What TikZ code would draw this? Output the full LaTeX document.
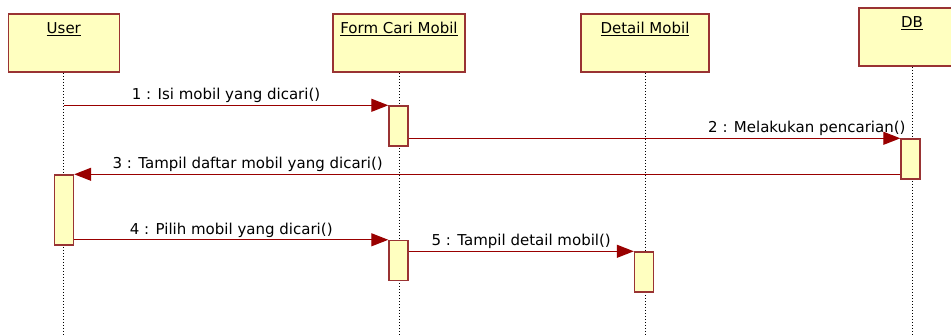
\documentclass[tikz,border=0pt]{standalone}
\usepackage{fontspec}
\setmainfont{DejaVu Sans}
\usetikzlibrary{arrows.meta}
\definecolor{objfill}{HTML}{FFFFC0}
\definecolor{objline}{HTML}{993333}
\definecolor{msgline}{HTML}{990000}
\begin{document}
\begin{tikzpicture}[
        x=1pt, y=-1pt,
        font=\fontsize{15}{18}\selectfont
    ]
    \tikzset{
        objbox/.style = {rectangle, draw=objline, line width=1.6pt, fill=objfill, minimum height=58pt, inner xsep=0pt, inner ysep=7pt, text height=13pt, text depth=31pt},
        actbox/.style = {rectangle, draw=objline, line width=1.4pt, fill=objfill, minimum width=19pt, minimum height=40pt, inner sep=0pt},
        lifeline/.style = {black, line width=0.8pt, dash pattern=on 1pt off 2pt},
        msgedge/.style = {-{Triangle[length=17pt,width=13pt]}, draw=msgline, line width=1.2pt},
        msglabel/.style = {above, inner sep=2pt, text=black},
    }
        \useasboundingbox (0,0) rectangle (951,336);
        \coordinate (bottom) at (0,336);
        % objects
        \node[objbox, minimum width=111pt] at (63.8,43) (user) {\underline{User}};
        \node[objbox, minimum width=132pt] at (399,43) (form) {\underline{Form Cari Mobil}};
        \node[objbox, minimum width=128pt] at (645,43) (detail) {\underline{Detail Mobil}};
        \node[objbox, minimum width=106pt] at (912,37) (db) {\underline{DB}};
        %
        \draw[lifeline] (user.south) -- (user.south |- bottom);
        \draw[lifeline] (form.south) -- (form.south |- bottom);
        \draw[lifeline] (detail.south) -- (detail.south |- bottom);
        \draw[lifeline] (db.south) -- (db.south |- bottom);
        % activations
        \node[actbox] at (398.5,126) (forma) {};
        \node[actbox] at (910.5,159) (dba) {};
        \node[actbox, minimum height=70pt] at (64,210) (usera) {};
        \node[actbox] at (398.5,260.5) (formb) {};
        \node[actbox] at (644,272) (detaila) {};
        % messages
        \draw[msgedge] (user.south |- forma.north west) -- node[msglabel] {1 : Isi mobil yang dicari()} (forma.north west);
        \draw[msgedge] (forma.east |- dba.north west) -- node[msglabel, pos=0.81] {2 : Melakukan pencarian()} (dba.north west);
        \draw[msgedge] (dba.west |- usera.north east) -- node[msglabel, pos=0.79] {3 : Tampil daftar mobil yang dicari()} (usera.north east);
        \draw[msgedge] (usera.east |- formb.north west) -- node[msglabel] {4 : Pilih mobil yang dicari()} (formb.north west);
        \draw[msgedge] (formb.east |- detaila.north west) -- node[msglabel] {5 : Tampil detail mobil()} (detaila.north west);
\end{tikzpicture}
\end{document}
